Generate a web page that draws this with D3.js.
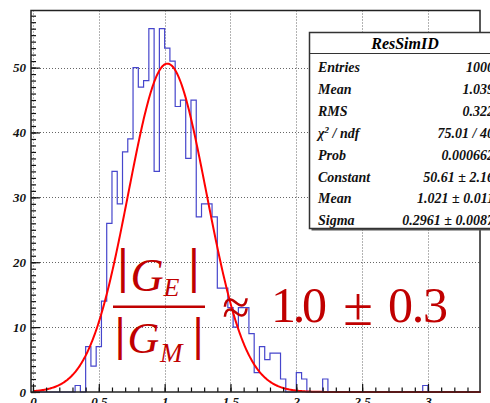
<!DOCTYPE html>
<html>
<head>
<meta charset="utf-8">
<script src="https://cdn.jsdelivr.net/npm/d3@7"></script>
<style>
  body { margin: 0; background: #fff; }
  svg { display: block; }
</style>
</head>
<body>
<svg id="chart"></svg>
<script>
// histogram of the ratio, 0.04 wide bins starting at 0
const binStart = 0;
const binWidth = 0.04;
const counts = [
  0, 0, 0, 0, 0, 0, 0, 0, 1, 0,
  7, 4, 7, 14, 26, 34, 29, 37, 39, 50,
  47, 48, 56, 34, 56, 53, 51, 44, 45, 36,
  45, 27, 29, 29, 27, 16, 16, 13, 10, 13,
  13, 9, 3, 7, 5, 6, 6, 2, 0, 0,
  3, 2, 0, 0, 0, 2, 0, 0, 0, 0,
  0, 0, 0, 0, 0, 0, 0, 0, 0, 0,
  0, 0, 0, 0, 1, 0, 0, 0, 0, 0,
  0, 0, 0, 0, 0
];

// gaussian fit results (from the stats box)
const fitConstant = 50.61;
const fitMean = 1.021;
const fitSigma = 0.2961;

const xMajor = [0, 0.5, 1, 1.5, 2, 2.5, 3];
const xMajorLabels = ["0", "0.5", "1", "1.5", "2", "2.5", "3"];
const yMajor = [0, 10, 20, 30, 40, 50];

const statsTitle = "ResSimID";
const statsNames = ["Entries", "Mean", "RMS", "χ2 / ndf", "Prob", "Constant", "Mean", "Sigma"];
const statsValues = ["1000", "1.039", "0.322", "75.01 / 40", "0.000662", "50.61 \u00b1 2.16", "1.021 \u00b1 0.011", "0.2961 \u00b1 0.0087"];

const width = 490, height = 403;
const frame = { left: 31, right: 480, top: 10.5, bottom: 392 };
const red = "#c00000";
const serif = "'Liberation Serif', 'Times New Roman', serif";

const svg = d3.select("#chart")
    .attr("width", width)
    .attr("height", height);

const x = d3.scaleLinear().domain([-0.015, 3.395]).range([frame.left, frame.right]);
const y = d3.scaleLinear().domain([0, 58.8]).range([frame.bottom, frame.top]);

// dotted grid
const grid = svg.append("g").attr("stroke", "#666").attr("stroke-width", 1).attr("stroke-dasharray", "1,2");
grid.selectAll(".gx").data(xMajor).enter().append("line")
    .attr("x1", d => Math.round(x(d)) + 0.5).attr("x2", d => Math.round(x(d)) + 0.5)
    .attr("y1", frame.top).attr("y2", frame.bottom);
grid.selectAll(".gy").data(yMajor.slice(1)).enter().append("line")
    .attr("y1", d => Math.round(y(d)) + 0.5).attr("y2", d => Math.round(y(d)) + 0.5)
    .attr("x1", frame.left).attr("x2", frame.right);

// histogram outline
const nBins = counts.length;
const edges = d3.range(nBins + 1).map(i => binStart + i * binWidth);
const steps = [[edges[0], 0]];
counts.forEach((c, i) => { steps.push([edges[i], c]); steps.push([edges[i + 1], c]); });
steps.push([edges[nBins], 0]);

svg.append("path")
    .datum(steps)
    .attr("fill", "none")
    .attr("stroke", "#4646cc")
    .attr("stroke-width", 1.2)
    .attr("d", d3.line().x(d => x(d[0])).y(d => y(d[1])));

// fit curve
const fitX = d3.range(0, 3.4001, 0.005);
svg.append("path")
    .datum(fitX)
    .attr("fill", "none")
    .attr("stroke", "#ff0000")
    .attr("stroke-width", 2)
    .attr("d", d3.line()
        .x(d => x(d))
        .y(d => y(fitConstant * Math.exp(-0.5 * Math.pow((d - fitMean) / fitSigma, 2)))));

// axes (ticks point into the frame)
const yAxis = svg.append("g")
    .attr("transform", `translate(${frame.left},0)`)
    .call(d3.axisLeft(y).tickValues(yMajor).tickSizeInner(-9).tickSizeOuter(0).tickPadding(5));
svg.append("g")
    .attr("transform", `translate(${frame.left},0)`)
    .call(d3.axisLeft(y).tickValues(d3.range(0, 59, 1)).tickFormat("").tickSizeInner(-5).tickSizeOuter(0));

const xAxis = svg.append("g")
    .attr("transform", `translate(0,${frame.bottom})`)
    .call(d3.axisBottom(x).tickValues(xMajor).tickFormat((d, i) => xMajorLabels[i])
        .tickSizeInner(-8).tickSizeOuter(0).tickPadding(5));
svg.append("g")
    .attr("transform", `translate(0,${frame.bottom})`)
    .call(d3.axisBottom(x).tickValues(d3.range(0, 3.35, 0.1)).tickFormat("").tickSizeInner(-4.5).tickSizeOuter(0));

svg.selectAll(".domain").remove();
svg.selectAll(".tick line").attr("stroke", "#111").attr("stroke-width", 1.2);
[yAxis, xAxis].forEach(a => a.selectAll("text")
    .style("font-family", serif)
    .style("font-weight", "bold")
    .style("font-style", "italic")
    .style("font-size", "13px")
    .attr("fill", "#111"));

// frame
svg.append("rect")
    .attr("x", frame.left).attr("y", frame.top)
    .attr("width", frame.right - frame.left).attr("height", frame.bottom - frame.top)
    .attr("fill", "none").attr("stroke", "#222").attr("stroke-width", 1.5);

// stats box
const box = { x: 309.5, y: 32.5, w: 192, h: 196 };
svg.append("rect")
    .attr("x", box.x + 2).attr("y", box.y + 2).attr("width", box.w).attr("height", box.h)
    .attr("fill", "#555");
svg.append("rect")
    .attr("x", box.x).attr("y", box.y).attr("width", box.w).attr("height", box.h)
    .attr("fill", "#fff").attr("stroke", "#333").attr("stroke-width", 1.5);
svg.append("line")
    .attr("x1", box.x).attr("x2", box.x + box.w)
    .attr("y1", 53.5).attr("y2", 53.5)
    .attr("stroke", "#333").attr("stroke-width", 1.2);
svg.append("text")
    .attr("x", 405).attr("y", 49)
    .attr("text-anchor", "middle")
    .style("font-family", serif).style("font-weight", "bold").style("font-style", "italic")
    .style("font-size", "16px")
    .text(statsTitle);

const rows = svg.append("g")
    .style("font-family", serif).style("font-weight", "bold").style("font-style", "italic")
    .style("font-size", "14px").attr("fill", "#111");
statsNames.forEach((name, i) => {
    const yy = 72 + i * 21.9;
    const t = rows.append("text").attr("x", 318).attr("y", yy);
    if (name.startsWith("χ")) {
        t.append("tspan").text("χ");
        t.append("tspan").attr("dy", -5).style("font-size", "9px").text("2");
        t.append("tspan").attr("dy", 5).text(" / ndf");
    } else {
        t.text(name);
    }
    rows.append("text").attr("x", 494).attr("y", yy).attr("text-anchor", "end").text(statsValues[i]);
});

// big red annotation |G_E| / |G_M| ≈ 1.0 ± 0.3
const ann = svg.append("g").attr("fill", red).style("font-family", serif);
const bar = (cx, base, size) => ann.append("text")
    .attr("x", cx).attr("y", base).attr("text-anchor", "middle")
    .style("font-family", "'DejaVu Serif', serif").style("font-size", size + "px").text("|");

bar(123, 281.5, 44);
ann.append("text").attr("x", 130.5).attr("y", 291).style("font-style", "italic").style("font-size", "46px").text("G");
ann.append("text").attr("x", 163.5).attr("y", 296).style("font-style", "italic").style("font-size", "26px").text("E");
bar(194, 281.5, 44);

ann.append("line").attr("x1", 113).attr("x2", 205).attr("y1", 306.7).attr("y2", 306.7)
    .attr("stroke", red).attr("stroke-width", 2.5);

bar(120, 350, 42);
ann.append("text").attr("x", 127.5).attr("y", 353).style("font-style", "italic").style("font-size", "44px").text("G");
ann.append("text").attr("x", 160).attr("y", 362).style("font-style", "italic").style("font-size", "27px").text("M");
bar(198, 350, 42);

ann.append("text").attr("x", 236).attr("y", 324).attr("text-anchor", "middle").style("font-size", "50px").text("≈");
ann.append("text").attr("x", 271).attr("y", 322).attr("textLength", 56).style("font-size", "50px").text("1.0");
ann.append("text").attr("x", 358).attr("y", 325).attr("text-anchor", "middle").style("font-size", "54px").text("±");
ann.append("text").attr("x", 388).attr("y", 322).attr("textLength", 60).style("font-size", "50px").text("0.3");
</script>
</body>
</html>
